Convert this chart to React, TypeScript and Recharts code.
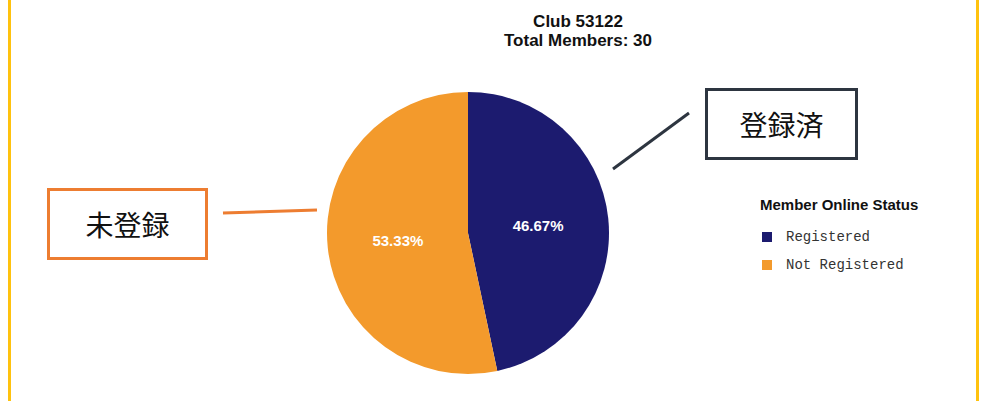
import React from "react";
import { PieChart, Pie, Cell, Legend } from "recharts";

// member counts for club 53122 (30 total)
const statuses = ["Registered", "Not Registered"];
const members = [14, 16];
const colors = ["#1c1b6f", "#f39a2c"];

const data = statuses.map((name, i) => ({ name, value: members[i] }));
const total = members.reduce((a, b) => a + b, 0);

const RADIAN = Math.PI / 180;

const renderLabel = (props: any) => {
  const { cx, cy, midAngle, outerRadius, value } = props;
  const r = outerRadius * 0.5;
  const x = cx + r * Math.cos(-midAngle * RADIAN);
  const y = cy + r * Math.sin(-midAngle * RADIAN);
  return (
    <text
      x={x}
      y={y}
      fill="#ffffff"
      textAnchor="middle"
      dominantBaseline="central"
      fontFamily="Liberation Sans, Arial, sans-serif"
      fontWeight="bold"
      fontSize={15}
    >
      {((value / total) * 100).toFixed(2)}%
    </text>
  );
};

const renderLegend = (props: any) => {
  // keep the data order, not alphabetical
  const payload = [...(props.payload || [])].sort(
    (a: any, b: any) => statuses.indexOf(a.value) - statuses.indexOf(b.value)
  );
  return (
    <div style={{ fontFamily: "Liberation Sans, Arial, sans-serif" }}>
      <div style={{ fontWeight: "bold", fontSize: 15, color: "#111", marginBottom: 10 }}>
        Member Online Status
      </div>
      {payload.map((entry: any, i: number) => (
        <div key={i} style={{ display: "flex", alignItems: "center", height: 28 }}>
          <span
            style={{
              display: "inline-block",
              width: 10,
              height: 10,
              background: entry.color,
              marginLeft: 2,
              marginRight: 14,
            }}
          />
          <span style={{ fontFamily: "Liberation Mono, DejaVu Sans Mono, monospace", fontSize: 14, color: "#333" }}>
            {entry.value}
          </span>
        </div>
      ))}
    </div>
  );
};

export default function App() {
  return (
    <div
      style={{
        position: "absolute",
        left: 0,
        top: 0,
        width: 984,
        height: 401,
        background: "#ffffff",
        overflow: "hidden",
      }}
    >
      {/* yellow page borders */}
      <div style={{ position: "absolute", left: 8, top: 0, width: 3, height: 401, background: "#ffc20e" }} />
      <div style={{ position: "absolute", left: 976, top: 0, width: 3, height: 401, background: "#ffc20e" }} />

      <div
        style={{
          position: "absolute",
          left: 478,
          top: 12,
          width: 200,
          textAlign: "center",
          fontFamily: "Liberation Sans, Arial, sans-serif",
          fontWeight: "bold",
          fontSize: 17,
          lineHeight: "19px",
          color: "#111",
        }}
      >
        Club 53122
        <br />
        Total Members: {total}
      </div>

      <div style={{ position: "absolute", left: 0, top: 0 }}>
        <PieChart width={984} height={401} margin={{ top: 0, right: 0, bottom: 0, left: 0 }}>
          <Pie
            data={data}
            dataKey="value"
            nameKey="name"
            cx={468}
            cy={233}
            outerRadius={141}
            startAngle={90}
            endAngle={-270}
            stroke="none"
            label={renderLabel}
            labelLine={false}
            isAnimationActive={false}
          >
            {data.map((d, i) => (
              <Cell key={d.name} fill={colors[i]} />
            ))}
          </Pie>
          <Legend
            layout="vertical"
            align="right"
            verticalAlign="middle"
            content={renderLegend}
            wrapperStyle={{ left: 760, top: 196, width: 200, right: "auto", bottom: "auto" }}
          />
        </PieChart>
      </div>

      {/* callout lines */}
      <svg style={{ position: "absolute", left: 0, top: 0 }} width={984} height={401}>
        <line x1={613} y1={169} x2={689} y2={113} stroke="#2d3540" strokeWidth={3} />
        <line x1={223} y1={213} x2={317} y2={210} stroke="#ed7d31" strokeWidth={3} />
      </svg>

      {/* callout boxes */}
      <div
        style={{
          position: "absolute",
          left: 705,
          top: 88,
          width: 147,
          height: 66,
          border: "3px solid #2d3540",
          display: "flex",
          alignItems: "center",
          justifyContent: "center",
          fontFamily: "Noto Sans CJK JP, sans-serif",
          fontSize: 28,
          color: "#111",
          background: "#fff",
        }}
      >
        登録済
      </div>
      <div
        style={{
          position: "absolute",
          left: 47,
          top: 188,
          width: 155,
          height: 66,
          border: "3px solid #ed7d31",
          display: "flex",
          alignItems: "center",
          justifyContent: "center",
          fontFamily: "Noto Sans CJK JP, sans-serif",
          fontSize: 28,
          color: "#111",
          background: "#fff",
        }}
      >
        未登録
      </div>
    </div>
  );
}
